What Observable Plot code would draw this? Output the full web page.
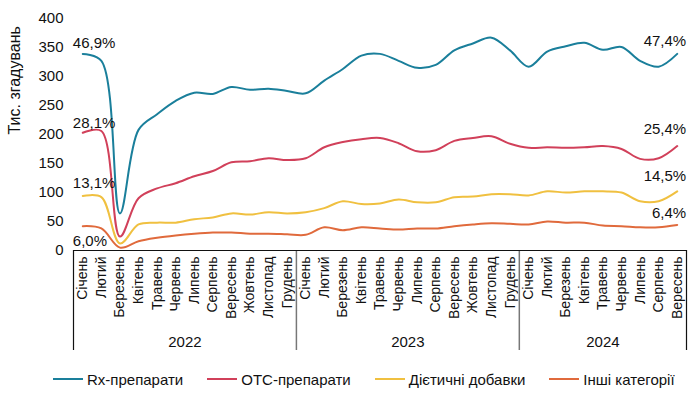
<!DOCTYPE html>
<html>
<head>
<meta charset="utf-8">
<script src="https://cdn.jsdelivr.net/npm/d3@7"></script>
<script src="https://cdn.jsdelivr.net/npm/@observablehq/plot@0.6"></script>
<style>
  body { margin: 0; background: #fff; font-family: "Liberation Sans", Arial, sans-serif; }
  #chart { width: 697px; }
  .legend { display: flex; align-items: center; padding-left: 53px; height: 34px; font-size: 15px; color: #111; white-space: nowrap; }
  .legend .item { display: flex; align-items: center; margin-right: 24px; flex: none; }
  .legend .sw { width: 30px; height: 2px; margin-right: 4px; }
</style>
</head>
<body>
<div id="chart"></div>
<script>
const months = ["Січень","Лютий","Березень","Квітень","Травень","Червень","Липень","Серпень","Вересень","Жовтень","Листопад","Грудень",
  "Січень","Лютий","Березень","Квітень","Травень","Червень","Липень","Серпень","Вересень","Жовтень","Листопад","Грудень",
  "Січень","Лютий","Березень","Квітень","Травень","Червень","Липень","Серпень","Вересень"];
const years = ["2022","2023","2024"];
const yearCenters = [5.5, 17.5, 28];
const outerBoundaries = [-0.5, 32.5];
const innerBoundaries = [11.5, 23.5];

const seriesNames = ["Rx-препарати","OTC-препарати","Дієтичні добавки","Інші категорії"];
const seriesColors = ["#1a7f9b","#d1405a","#f0c040","#e06a3c"];

const rx = [339,327,64,208,235,258,272,270,282,277,279,275,
            271,293,313,336,339,327,315,320,345,357,367,345,
            317,343,352,358,346,351,327,317,339];
const otc = [203,206,24,90,107,116,128,137,152,154,159,156,
             159,178,187,192,194,185,171,173,189,194,197,184,
             177,178,177,178,180,175,158,159,180];
const diet = [94,92,12,45,48,48,54,57,64,62,66,64,
              66,73,85,80,81,88,83,83,92,93,97,97,
              95,102,100,102,102,100,85,85,102];
const other = [42,38,5,16,22,26,29,31,31,29,29,28,
               27,40,35,40,38,36,38,38,42,45,47,46,
               45,50,48,48,43,42,40,40,44];

const startShares = ["46,9%","28,1%","13,1%","6,0%"];
const endShares = ["47,4%","25,4%","14,5%","6,4%"];
const yTicks = [0,50,100,150,200,250,300,350,400];
const yTitle = "Тис. згадувань";

const allSeries = [rx, otc, diet, other];
const rows = allSeries.flatMap((vals, s) => vals.map((v, i) => ({i, v, s: seriesNames[s]})));

const startDy = [-11, -10, -13, 15];
const endDy = [-13, -17, -15, -12];

const labelMarks = [];
allSeries.forEach((vals, s) => {
  labelMarks.push(Plot.text([{i: 0, v: vals[0], t: startShares[s]}], {x: "i", y: "v", text: "t", textAnchor: "start", dx: -10, dy: startDy[s], fontSize: 15, fill: "#111"}));
  labelMarks.push(Plot.text([{i: vals.length - 1, v: vals[vals.length - 1], t: endShares[s]}], {x: "i", y: "v", text: "t", textAnchor: "end", dx: 9, dy: endDy[s], fontSize: 15, fill: "#111"}));
});

const chart = Plot.plot({
  width: 697,
  height: 362,
  marginLeft: 73,
  marginRight: 11,
  marginTop: 18,
  marginBottom: 112,
  style: {fontFamily: "'Liberation Sans', Arial, sans-serif", fontSize: "14px", color: "#111"},
  x: {type: "linear", domain: [-0.5, 32.5]},
  y: {domain: [0, 400]},
  color: {domain: seriesNames, range: seriesColors},
  marks: [
    Plot.axisY(yTicks, {tickSize: 0, tickPadding: 10, fontSize: 15, label: null}),
    Plot.text([yTitle], {frameAnchor: "left", rotate: -90, dx: -59, fontSize: 16, fill: "#111"}),
    Plot.axisX(d3.range(months.length), {tickSize: 0, tickPadding: 6, tickRotate: -90, tickFormat: i => months[i], fontSize: 14, label: null}),
    Plot.axisX(outerBoundaries, {tickSize: 100, stroke: "#111", strokeWidth: 1.2, tickFormat: () => "", label: null}),
    Plot.axisX(innerBoundaries, {tickSize: 100, stroke: "#777", strokeWidth: 1.5, tickFormat: () => "", label: null}),
    Plot.axisX(yearCenters, {tickSize: 0, tickPadding: 86, tickFormat: (d, i) => years[i], fontSize: 15, label: null}),
    Plot.ruleY([0], {stroke: "#111", strokeWidth: 1.2}),
    Plot.line(rows, {x: "i", y: "v", z: "s", stroke: "s", strokeWidth: 2, curve: "catmull-rom"}),
    ...labelMarks
  ]
});
document.getElementById("chart").appendChild(chart);

const legend = document.createElement("div");
legend.className = "legend";
seriesNames.forEach((n, s) => {
  const it = document.createElement("div");
  it.className = "item";
  it.innerHTML = `<span class="sw" style="background:${seriesColors[s]}"></span><span>${n}</span>`;
  legend.appendChild(it);
});
document.getElementById("chart").appendChild(legend);
</script>
</body>
</html>
